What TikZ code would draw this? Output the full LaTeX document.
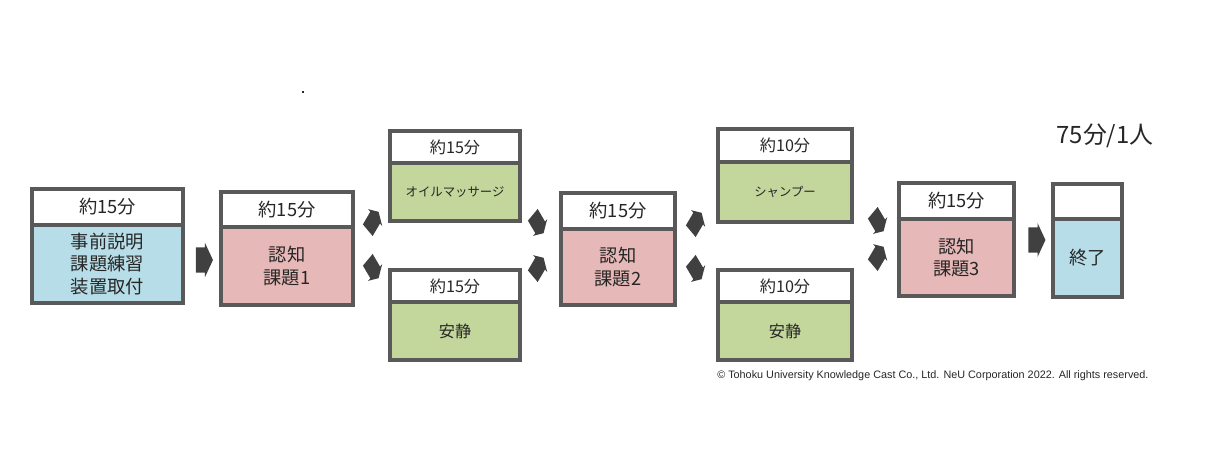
\documentclass[tikz,border=0pt]{standalone}
\usepackage{fontspec}
\setmainfont{Noto Sans CJK JP}
\newfontfamily\notefont{Liberation Sans}
\usepackage{xcolor}
\usepackage{tikz}
\usetikzlibrary{shapes.arrows, positioning}

\definecolor{framegray}{HTML}{595959}
\definecolor{arrowgray}{HTML}{404040}
\definecolor{textgray}{HTML}{262626}
\definecolor{prepblue}{HTML}{B7DEE8}
\definecolor{taskpink}{HTML}{E6B9B8}
\definecolor{restgreen}{HTML}{C3D69B}

\newcommand{\bigtxt}{\fontsize{13}{16}\selectfont}
\newcommand{\midtxt}{\fontsize{11.5}{14}\selectfont}
\newcommand{\smalltxt}{\fontsize{8.8}{11}\selectfont}

\begin{document}
\begin{tikzpicture}[x=0.025cm, y=-0.025cm]

\tikzset{
    hdr/.style={rectangle, draw=framegray, line width=2.85pt, fill=white, outer sep=0pt,
                inner sep=0pt, text=textgray, align=center},
    bdy/.style={hdr, fill=#1},
    harr/.style={single arrow, fill=arrowgray, inner xsep=0pt, inner ysep=0.31cm, minimum height=0.425cm,
                 single arrow head extend=0.11cm, single arrow tip angle=130},
    darr/.style={single arrow, fill=arrowgray, inner xsep=0pt, inner ysep=0.22cm, minimum height=0.6cm,
                 single arrow head extend=0.1cm, single arrow tip angle=120,
                 rotate=#1, transform shape},
    speck/.style={rectangle, fill=textgray, inner sep=0pt, minimum size=1.2pt}
}

\useasboundingbox (0,0) rectangle (1210,449);

% ── 準備 ──
\node[hdr, minimum width=3.775cm, minimum height=0.9cm, font=\bigtxt] (h1) at (107.5,207) {約15分};
\node[bdy=prepblue, minimum width=3.775cm, minimum height=1.95cm, font=\bigtxt, below=0pt of h1] (b1)
    {事前説明\\課題練習\\装置取付};

% ── 認知課題1 ──
\node[hdr, minimum width=3.3cm, minimum height=0.875cm, font=\bigtxt] (h2) at (287,209.5) {約15分};
\node[bdy=taskpink, minimum width=3.3cm, minimum height=1.95cm, font=\bigtxt, below=0pt of h2] (b2)
    {認知\\課題1};

% ── 介入1 ──
\node[hdr, minimum width=3.25cm, minimum height=0.8cm, font=\midtxt] (h3) at (455,147) {約15分};
\node[bdy=restgreen, minimum width=3.25cm, minimum height=1.45cm, font=\smalltxt, below=0pt of h3] (b3)
    {オイルマッサージ};
\node[hdr, minimum width=3.25cm, minimum height=0.8cm, font=\midtxt] (h4) at (455,286) {約15分};
\node[bdy=restgreen, minimum width=3.25cm, minimum height=1.45cm, font=\midtxt, below=0pt of h4] (b4)
    {安静};

% ── 認知課題2 ──
\node[hdr, minimum width=2.85cm, minimum height=0.9cm, font=\bigtxt] (h5) at (618,211) {約15分};
\node[bdy=taskpink, minimum width=2.85cm, minimum height=1.9cm, font=\bigtxt, below=0pt of h5] (b5)
    {認知\\課題2};

% ── 介入2 ──
\node[hdr, minimum width=3.35cm, minimum height=0.825cm, font=\midtxt] (h6) at (785,145.5) {約10分};
\node[bdy=restgreen, minimum width=3.35cm, minimum height=1.5cm, font=\smalltxt, below=0pt of h6] (b6)
    {シャンプー};
\node[hdr, minimum width=3.35cm, minimum height=0.8cm, font=\midtxt] (h7) at (785,286) {約10分};
\node[bdy=restgreen, minimum width=3.35cm, minimum height=1.45cm, font=\midtxt, below=0pt of h7] (b7)
    {安静};

% ── 認知課題3・終了 ──
\node[hdr, minimum width=2.875cm, minimum height=0.9cm, font=\bigtxt] (h8) at (956.5,201) {約15分};
\node[bdy=taskpink, minimum width=2.875cm, minimum height=1.925cm, font=\bigtxt, below=0pt of h8] (b8)
    {認知\\課題3};
\node[hdr, minimum width=1.725cm, minimum height=0.875cm] (h9) at (1087.5,201.5) {};
\node[bdy=prepblue, minimum width=1.725cm, minimum height=1.95cm, font=\bigtxt, below=0pt of h9] (b9)
    {終了};

% ── 矢印 ──
\node[harr] (a1) at (201.5,260) {};
\node[harr] (a2) at (1034,240) {};
\foreach \nm/\px/\py/\ang in {d1/372/223/50, d2/372/267/-50, d3/537/222/-50, d4/537/269/50,
                              d5/695/224/50, d6/695/268/-50, d7/877/220/-50, d8/877/258/50}{
    \begin{scope}[shift={(\px,\py)}, xscale=0.7]
        \node[darr=\ang] (\nm) at (0,0) {};
    \end{scope}
}

% ── 注記 ──
\node[text=textgray, font=\fontsize{17}{20}\selectfont] (total) at (1105,136) {75分/1人};
\node[anchor=west, text=textgray, inner sep=0pt, font=\notefont\fontsize{7.7}{9}\selectfont] (copy) at (717,376)
    {© Tohoku University Knowledge Cast Co., Ltd. NeU Corporation 2022. All rights reserved.};
\node[speck] (dot) at (303,92) {};

\end{tikzpicture}
\end{document}
